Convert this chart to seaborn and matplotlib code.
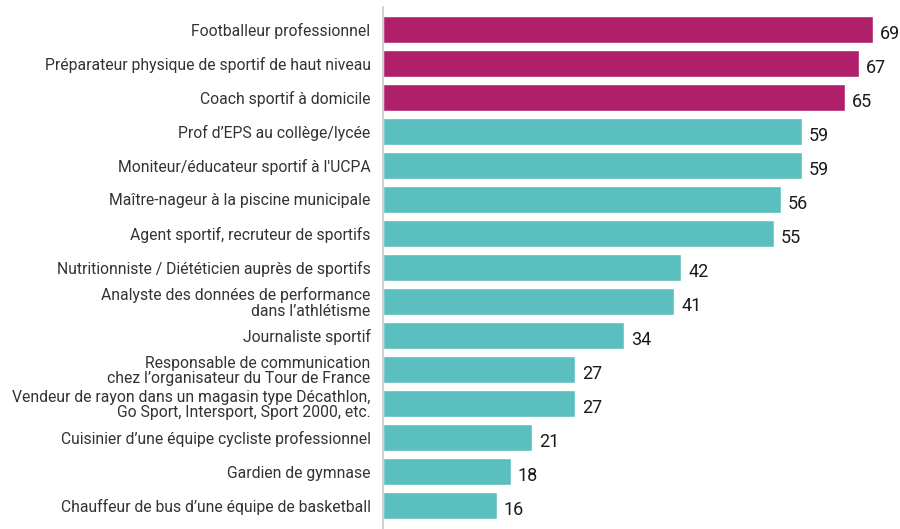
import pandas as pd
import matplotlib.pyplot as plt
import seaborn as sns

# ---------- DATA ----------
metiers = [
    "Footballeur professionnel",
    "Préparateur physique de sportif de haut niveau",
    "Coach sportif à domicile",
    "Prof d’EPS au collège/lycée",
    "Moniteur/éducateur sportif à l'UCPA",
    "Maître-nageur à la piscine municipale",
    "Agent sportif, recruteur de sportifs",
    "Nutritionniste / Diététicien auprès de sportifs",
    "Analyste des données de performance\ndans l’athlétisme",
    "Journaliste sportif",
    "Responsable de communication\nchez l’organisateur du Tour de France",
    "Vendeur de rayon dans un magasin type Décathlon,\nGo Sport, Intersport, Sport 2000, etc.",
    "Cuisinier d’une équipe cycliste professionnel",
    "Gardien de gymnase",
    "Chauffeur de bus d’une équipe de basketball",
]
scores = [69, 67, 65, 59, 59, 56, 55, 42, 41, 34, 27, 27, 21, 18, 16]
groupe = ["top"] * 3 + ["autre"] * 12

df = pd.DataFrame({"metier": metiers, "score": scores, "groupe": groupe})

# ---------- STYLE ----------
sns.set_theme(style="white")
plt.rcParams["font.family"] = ["Roboto", "DejaVu Sans"]

fig = plt.figure(figsize=(9, 5.29), dpi=100)
ax = fig.add_axes([0.4256, 0.0, 0.5744, 0.9868])

sns.barplot(
    data=df, y="metier", x="score", hue="groupe",
    palette={"top": "#B0206A", "autre": "#5CBFBF"},
    saturation=1, dodge=False, width=0.8, legend=False, ax=ax, orient="h",
)

ax.set_xlim(0, 72.8)
ax.set_ylim(14.69, -0.66)
ax.set_xlabel("")
ax.set_ylabel("")
ax.set_xticks([])

for s in ["top", "right", "bottom"]:
    ax.spines[s].set_visible(False)
ax.spines["left"].set_color("#c8c8c8")
ax.spines["left"].set_linewidth(1.2)

ax.tick_params(axis="y", length=0, pad=9, labelsize=11.3, labelcolor="#333333")
for lbl in ax.get_yticklabels():
    lbl.set_linespacing(1.02)

# valeurs au bout des barres
for i, v in enumerate(scores):
    ax.text(v + 1.0, i + 0.12, str(v), va="center", ha="left",
            fontsize=13, color="#1a1a1a", clip_on=False)

fig.savefig("out.png", dpi=100)
